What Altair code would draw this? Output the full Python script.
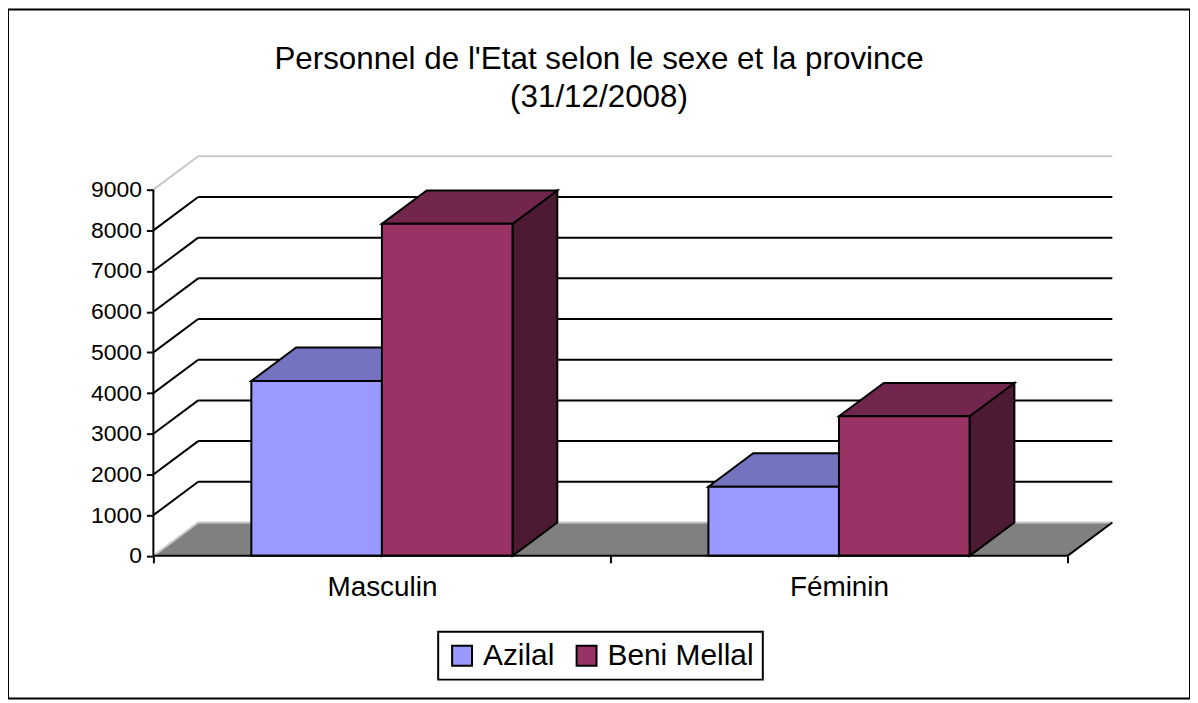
import altair as alt
import pandas as pd

# ---------------- data ----------------
categories = ["Masculin", "Féminin"]
series = ["Azilal", "Beni Mellal"]
azilal = [4300, 1700]
beni_mellal = [8160, 3430]
y_ticks = [0, 1000, 2000, 3000, 4000, 5000, 6000, 7000, 8000, 9000]
title_lines = ["Personnel de l'Etat selon le sexe et la province", "(31/12/2008)"]

# ---------------- styles / layout ----------------
front_colors = ["#9999FF", "#993366"]
top_colors = ["#7373BF", "#73264D"]
side_colors = ["#4D4D80", "#4D1A33"]
FONT = "Liberation Sans"

W, H = 1187, 692            # whole framed chart (view)
ORIGIN_X, ORIGIN_Y = 146, 548.7   # front-left floor corner inside the view (px)
PX_PER_CAT = 459.0
PX_PER_VAL = 40.86 / 1000.0
GAP = 1.5
BAR_W = 1.0 / (len(series) + GAP)
DX = 45 / PX_PER_CAT        # depth, category units
DY = 33.5 / PX_PER_VAL      # depth, value units
NCAT = len(categories)

XMIN = -ORIGIN_X / PX_PER_CAT
XMAX = (W - ORIGIN_X) / PX_PER_CAT
YMAX = ORIGIN_Y / PX_PER_VAL
YMIN = YMAX - H / PX_PER_VAL

values = {"Azilal": azilal, "Beni Mellal": beni_mellal}

fronts, tops, sides = [], [], []
for ci, cat in enumerate(categories):
    start = ci + 0.5 - BAR_W * len(series) / 2
    for si, s in enumerate(series):
        v = values[s][ci]
        x0 = start + si * BAR_W
        x1 = x0 + BAR_W
        bar = f"{cat}-{s}"
        fronts.append(dict(bar=bar, serie=s, cat=cat, value=v, x0=x0, x1=x1, base=0))
        for (x, lo, hi) in [(x0, v, v), (x0 + DX, v, v + DY),
                            (x1, v, v + DY), (x1 + DX, v + DY, v + DY)]:
            tops.append(dict(bar=bar, x=x, lo=lo, hi=hi, col=top_colors[si]))
        for (x, lo, hi) in [(x1, 0, v), (x1 + DX, DY, v + DY)]:
            sides.append(dict(bar=bar, x=x, lo=lo, hi=hi, col=side_colors[si]))

df_front = pd.DataFrame(fronts)
df_top = pd.DataFrame(tops)
df_side = pd.DataFrame(sides)

floor = pd.DataFrame([
    dict(x=0, lo=0, hi=0),
    dict(x=DX, lo=0, hi=DY),
    dict(x=NCAT, lo=0, hi=DY),
    dict(x=NCAT + DX, lo=DY, hi=DY),
])

black_rules, light_rules = [], []
for v in y_ticks:
    seg_h = dict(x=DX, x2=NCAT + DX, y=v + DY, y2=v + DY)
    seg_d = dict(x=0, x2=DX, y=v, y2=v + DY)
    if v == y_ticks[0] or v == y_ticks[-1]:
        light_rules += [seg_h, seg_d]
    else:
        black_rules += [seg_h, seg_d]
df_black = pd.DataFrame(black_rules)
df_light = pd.DataFrame(light_rules)
df_edges = pd.DataFrame([
    dict(x=0, x2=NCAT, y=0, y2=0),
    dict(x=NCAT, x2=NCAT + DX, y=0, y2=DY),
    dict(x=0, x2=0, y=0, y2=y_ticks[-1]),
])

# ---------------- scales & axes ----------------
xs = alt.Scale(domain=[XMIN, XMAX], nice=False, zero=False)
ys = alt.Scale(domain=[YMIN, YMAX], nice=False, zero=False)

label_expr = " : ".join(
    f"datum.value == {i + 0.5} ? '{c}'" for i, c in enumerate(categories)
) + " : ''"

x_axis = alt.Axis(
    title=None, orient="bottom", offset=-(H - ORIGIN_Y), domain=False, grid=False,
    values=[i * 0.5 for i in range(2 * NCAT + 1)], labelExpr=label_expr,
    tickSize=7, tickWidth=2, tickColor="black",
    tickOpacity={"condition": {"test": "datum.value % 1 != 0", "value": 0}, "value": 1},
    labelFontSize=28, labelFont=FONT, labelColor="black", labelPadding=11,
    labelOverlap=False, labelFlush=False,
)
y_axis = alt.Axis(
    title=None, orient="left", offset=-ORIGIN_X, domain=False, grid=False,
    values=y_ticks, format="d", tickSize=7, tickWidth=2, tickColor="black",
    labelFontSize=23, labelFont=FONT, labelColor="black", labelPadding=5,
    labelOverlap=False, labelFlush=False,
)

def X(f):
    return alt.X(f, scale=xs, axis=x_axis)

def Y(f):
    return alt.Y(f, scale=ys, axis=y_axis, stack=None)

floor_layer = alt.Chart(floor).mark_area(color="#808080", opacity=1, orient="vertical").encode(
    x=X("x:Q"), y=Y("lo:Q"), y2="hi:Q")

light_layer = alt.Chart(df_light).mark_rule(color="#C8C8C8", strokeWidth=2).encode(
    x=X("x:Q"), x2="x2:Q", y=Y("y:Q"), y2="y2:Q")

black_layer = alt.Chart(df_black).mark_rule(color="black", strokeWidth=2).encode(
    x=X("x:Q"), x2="x2:Q", y=Y("y:Q"), y2="y2:Q")

side_layer = alt.Chart(df_side).mark_area(
    stroke="black", strokeWidth=2, opacity=1, orient="vertical"
).encode(
    x=X("x:Q"), y=Y("lo:Q"), y2="hi:Q", detail="bar:N",
    fill=alt.Fill("col:N", scale=None))

top_layer = alt.Chart(df_top).mark_area(
    stroke="black", strokeWidth=2, opacity=1, orient="vertical"
).encode(
    x=X("x:Q"), y=Y("lo:Q"), y2="hi:Q", detail="bar:N",
    fill=alt.Fill("col:N", scale=None))

front_layer = alt.Chart(df_front).mark_rect(stroke="black", strokeWidth=2, opacity=1).encode(
    x=X("x0:Q"), x2="x1:Q", y=Y("base:Q"), y2="value:Q",
    color=alt.Color(
        "serie:N",
        scale=alt.Scale(domain=series, range=front_colors),
        legend=alt.Legend(
            title=None, orient="none", legendX=432, legendY=625, direction="horizontal",
            symbolType="square", symbolSize=400, symbolStrokeColor="black",
            symbolStrokeWidth=2, symbolOpacity=1,
            labelFontSize=30, labelFont=FONT, labelColor="black", labelOffset=6,
            columnPadding=17, padding=9, strokeColor="black", fillColor="white",
        ),
    ),
)

edge_layer = alt.Chart(df_edges).mark_rule(color="black", strokeWidth=2).encode(
    x=X("x:Q"), x2="x2:Q", y=Y("y:Q"), y2="y2:Q")

chart = alt.layer(
    floor_layer, light_layer, black_layer, side_layer, top_layer, front_layer, edge_layer
).properties(
    width=W, height=H,
    autosize=alt.AutoSizeParams(type="none"),
    padding=0,
    title=alt.TitleParams(
        text=title_lines, fontSize=31.5, font=FONT, fontWeight="normal", color="black",
        lineHeight=38, anchor="middle", offset=-104,
    ),
).configure(
    font=FONT
).configure_view(
    stroke="black", strokeWidth=2
).configure_legend(
    strokeWidth=2
)

chart.save("out.html", embed_options={"renderer": "svg", "actions": False})
